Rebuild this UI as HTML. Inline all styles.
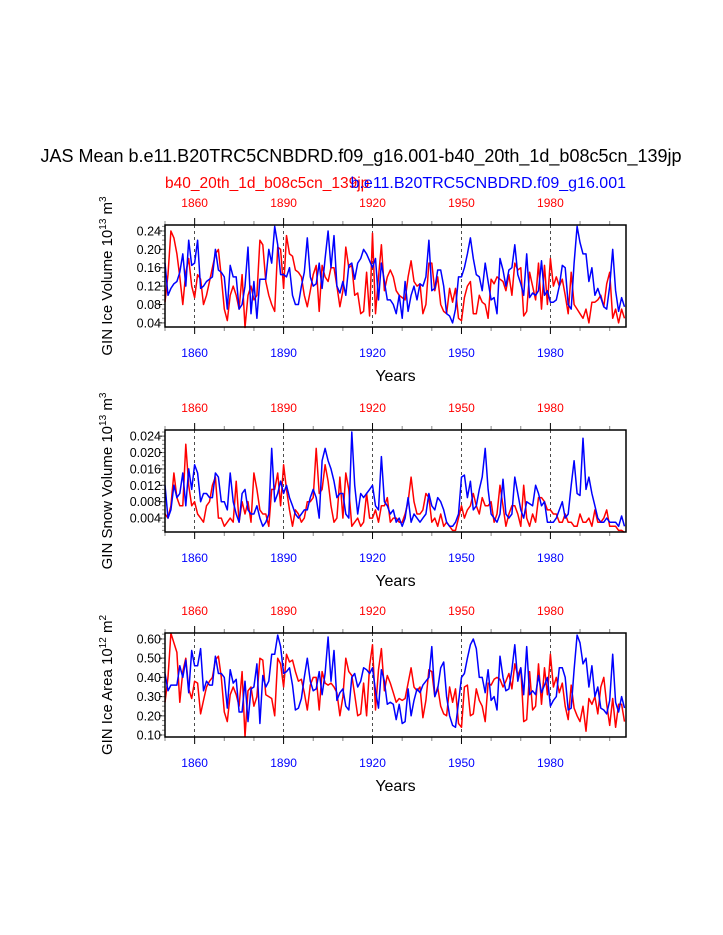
<!DOCTYPE html>
<html><head><meta charset="utf-8"><style>
body{margin:0;background:#fff;}
svg{display:block;font-family:"Liberation Sans",Arial,sans-serif;}
</style></head><body>
<svg id="chart" width="723" height="935" viewBox="0 0 723 935" xmlns="http://www.w3.org/2000/svg">
<text x="361" y="162" font-size="18" text-anchor="middle">JAS Mean b.e11.B20TRC5CNBDRD.f09_g16.001-b40_20th_1d_b08c5cn_139jp</text>
<text x="165" y="188" font-size="15.5" fill="#f00">b40_20th_1d_b08c5cn_139jp</text>
<text x="626" y="188" font-size="16" fill="#00f" text-anchor="end">b.e11.B20TRC5CNBDRD.f09_g16.001</text>
</svg>
<script>
const firstYear = 1850;
const xTicks = [1860, 1890, 1920, 1950, 1980];
const volBlue = [0.17,0.10,0.115,0.125,0.13,0.15,0.19,0.12,0.22,0.165,0.17,0.22,0.115,0.12,0.13,0.135,0.14,0.20,0.155,0.15,0.14,0.07,0.165,0.14,0.14,0.07,0.08,0.12,0.205,0.06,0.13,0.05,0.135,0.135,0.135,0.20,0.17,0.25,0.21,0.145,0.145,0.14,0.16,0.10,0.08,0.08,0.12,0.15,0.225,0.14,0.12,0.125,0.17,0.115,0.18,0.24,0.16,0.23,0.12,0.105,0.13,0.10,0.165,0.17,0.135,0.17,0.18,0.20,0.19,0.175,0.16,0.18,0.09,0.17,0.13,0.09,0.09,0.08,0.06,0.10,0.05,0.13,0.065,0.10,0.12,0.09,0.125,0.12,0.14,0.22,0.11,0.115,0.155,0.155,0.12,0.06,0.055,0.04,0.07,0.14,0.14,0.16,0.19,0.225,0.18,0.145,0.14,0.11,0.17,0.13,0.09,0.095,0.06,0.18,0.155,0.12,0.155,0.16,0.21,0.145,0.125,0.10,0.19,0.095,0.105,0.10,0.11,0.175,0.10,0.11,0.085,0.085,0.09,0.12,0.165,0.16,0.08,0.07,0.17,0.25,0.215,0.19,0.19,0.13,0.16,0.10,0.115,0.095,0.075,0.07,0.12,0.20,0.11,0.065,0.095,0.075];
const volRed = [0.085,0.145,0.24,0.225,0.19,0.14,0.08,0.15,0.18,0.12,0.095,0.145,0.135,0.08,0.10,0.13,0.16,0.19,0.20,0.14,0.07,0.045,0.10,0.12,0.10,0.07,0.145,0.03,0.10,0.12,0.09,0.10,0.22,0.21,0.13,0.10,0.08,0.065,0.205,0.20,0.115,0.23,0.19,0.185,0.155,0.15,0.14,0.10,0.075,0.11,0.145,0.165,0.065,0.165,0.14,0.13,0.16,0.16,0.12,0.075,0.11,0.205,0.16,0.165,0.10,0.105,0.06,0.065,0.15,0.055,0.235,0.06,0.14,0.21,0.11,0.14,0.155,0.14,0.11,0.10,0.095,0.09,0.14,0.175,0.13,0.12,0.125,0.06,0.08,0.17,0.17,0.11,0.14,0.08,0.065,0.06,0.115,0.085,0.115,0.05,0.045,0.095,0.12,0.13,0.06,0.06,0.10,0.085,0.08,0.05,0.135,0.125,0.14,0.135,0.13,0.11,0.145,0.10,0.17,0.155,0.16,0.055,0.065,0.15,0.12,0.09,0.17,0.07,0.165,0.08,0.18,0.12,0.14,0.12,0.135,0.10,0.06,0.15,0.08,0.07,0.06,0.05,0.07,0.04,0.085,0.085,0.09,0.10,0.075,0.125,0.15,0.05,0.07,0.04,0.07,0.05];
const snowBlue = [0.012,0.004,0.006,0.012,0.009,0.010,0.015,0.007,0.016,0.011,0.017,0.015,0.008,0.010,0.010,0.009,0.009,0.015,0.014,0.008,0.008,0.006,0.015,0.008,0.005,0.003,0.010,0.011,0.006,0.005,0.005,0.007,0.004,0.002,0.003,0.005,0.021,0.008,0.010,0.013,0.010,0.012,0.009,0.007,0.005,0.004,0.005,0.006,0.006,0.009,0.011,0.009,0.004,0.018,0.021,0.018,0.016,0.013,0.009,0.010,0.010,0.005,0.004,0.025,0.012,0.005,0.010,0.009,0.010,0.011,0.012,0.007,0.006,0.019,0.008,0.007,0.005,0.006,0.003,0.004,0.002,0.004,0.009,0.003,0.005,0.004,0.003,0.004,0.005,0.010,0.007,0.006,0.009,0.008,0.006,0.003,0.002,0.002,0.003,0.005,0.014,0.0145,0.009,0.013,0.006,0.007,0.011,0.014,0.021,0.011,0.005,0.004,0.003,0.005,0.0135,0.005,0.004,0.005,0.014,0.010,0.006,0.004,0.008,0.0075,0.007,0.012,0.010,0.007,0.008,0.003,0.003,0.003,0.004,0.006,0.008,0.004,0.005,0.012,0.018,0.010,0.0095,0.0235,0.011,0.014,0.010,0.007,0.004,0.003,0.003,0.004,0.003,0.003,0.003,0.002,0.0045,0.002];
const snowRed = [0.005,0.004,0.007,0.015,0.009,0.007,0.007,0.022,0.012,0.007,0.008,0.005,0.004,0.003,0.007,0.008,0.012,0.014,0.004,0.004,0.002,0.003,0.004,0.003,0.013,0.003,0.008,0.005,0.008,0.003,0.015,0.011,0.006,0.005,0.005,0.002,0.011,0.011,0.015,0.007,0.017,0.011,0.006,0.002,0.006,0.005,0.003,0.004,0.008,0.008,0.009,0.021,0.010,0.011,0.017,0.013,0.007,0.003,0.004,0.014,0.004,0.015,0.011,0.002,0.003,0.004,0.002,0.003,0.010,0.004,0.004,0.006,0.003,0.007,0.007,0.009,0.003,0.004,0.004,0.003,0.003,0.005,0.008,0.014,0.008,0.005,0.005,0.006,0.010,0.009,0.003,0.004,0.002,0.005,0.002,0.003,0.002,0.001,0.001,0.004,0.007,0.004,0.006,0.007,0.010,0.007,0.005,0.009,0.007,0.007,0.008,0.003,0.005,0.012,0.007,0.002,0.005,0.007,0.007,0.005,0.002,0.012,0.004,0.002,0.005,0.003,0.009,0.009,0.008,0.006,0.006,0.005,0.005,0.003,0.003,0.005,0.003,0.003,0.002,0.002,0.005,0.003,0.003,0.004,0.002,0.006,0.003,0.003,0.004,0.006,0.002,0.002,0.002,0.001,0.001,0.0005];
const areaBlue = [0.42,0.33,0.36,0.36,0.36,0.46,0.40,0.49,0.32,0.54,0.46,0.46,0.55,0.33,0.38,0.36,0.36,0.51,0.42,0.42,0.40,0.24,0.44,0.37,0.39,0.22,0.22,0.38,0.17,0.34,0.35,0.47,0.16,0.41,0.35,0.38,0.52,0.52,0.62,0.56,0.42,0.43,0.45,0.36,0.23,0.24,0.29,0.40,0.50,0.38,0.33,0.34,0.43,0.31,0.42,0.61,0.38,0.54,0.28,0.32,0.34,0.25,0.23,0.40,0.42,0.35,0.38,0.45,0.44,0.42,0.45,0.33,0.24,0.44,0.38,0.26,0.27,0.26,0.18,0.26,0.16,0.17,0.34,0.20,0.28,0.34,0.32,0.36,0.38,0.40,0.56,0.30,0.34,0.45,0.48,0.30,0.20,0.15,0.14,0.27,0.40,0.42,0.50,0.57,0.60,0.55,0.40,0.40,0.32,0.44,0.28,0.30,0.23,0.51,0.40,0.33,0.34,0.44,0.57,0.38,0.45,0.31,0.56,0.31,0.33,0.31,0.41,0.32,0.36,0.40,0.25,0.28,0.30,0.45,0.45,0.40,0.23,0.24,0.44,0.62,0.58,0.47,0.50,0.35,0.46,0.30,0.35,0.24,0.23,0.21,0.28,0.52,0.27,0.22,0.30,0.24];
const areaRed = [0.27,0.40,0.63,0.58,0.53,0.27,0.43,0.50,0.34,0.29,0.38,0.37,0.21,0.28,0.35,0.38,0.40,0.49,0.51,0.40,0.22,0.17,0.31,0.35,0.31,0.25,0.43,0.09,0.33,0.35,0.25,0.30,0.50,0.49,0.31,0.30,0.29,0.20,0.50,0.47,0.35,0.52,0.48,0.49,0.43,0.38,0.39,0.32,0.23,0.36,0.40,0.40,0.23,0.43,0.37,0.36,0.37,0.35,0.32,0.20,0.30,0.50,0.43,0.41,0.31,0.20,0.21,0.37,0.20,0.46,0.57,0.23,0.44,0.55,0.33,0.41,0.37,0.32,0.27,0.29,0.28,0.29,0.37,0.45,0.35,0.33,0.35,0.19,0.28,0.44,0.43,0.30,0.35,0.25,0.21,0.20,0.35,0.27,0.34,0.16,0.14,0.35,0.36,0.20,0.21,0.34,0.28,0.25,0.17,0.37,0.36,0.39,0.40,0.39,0.35,0.38,0.42,0.34,0.47,0.41,0.45,0.17,0.18,0.43,0.23,0.25,0.47,0.26,0.45,0.31,0.52,0.35,0.40,0.32,0.37,0.25,0.18,0.36,0.24,0.20,0.17,0.25,0.12,0.29,0.26,0.30,0.21,0.35,0.40,0.26,0.15,0.29,0.14,0.26,0.26,0.17];
const volTicks = ["0.04","0.08","0.12","0.16","0.20","0.24"];
const snowTicks = ["0.004","0.008","0.012","0.016","0.020","0.024"];
const areaTicks = ["0.10","0.20","0.30","0.40","0.50","0.60"];

const svg = document.getElementById('chart');
const NS = 'http://www.w3.org/2000/svg';
function mk(tag, attrs, parent){const e=document.createElementNS(NS,tag);for(const k in attrs)e.setAttribute(k,attrs[k]);(parent||svg).appendChild(e);return e;}
const X0=165, X1=626, Y0v=firstYear, Y1v=2005.5;
function xs(yr){return X0+(yr-Y0v)/(Y1v-Y0v)*(X1-X0);}

function panel(o){
  const g=mk('g',{});
  
  
  const ys=v=>o.top+(o.ymax-v)/(o.ymax-o.ymin)*(o.bot-o.top);
  xTicks.forEach(t=>{const l=mk('line',{x1:xs(t),x2:xs(t),y1:o.top,y2:o.bot,stroke:'#000','stroke-width':0.7,'stroke-dasharray':'3,3'},g);
    });
  for(let yr=1850;yr<=2000;yr+=10){
    const major=xTicks.includes(yr); const len=major?7:4;
    mk('line',{x1:xs(yr),x2:xs(yr),y1:o.bot,y2:o.bot+len,stroke:major?'#000':'#888','stroke-width':1},g);
    mk('line',{x1:xs(yr),x2:xs(yr),y1:o.top,y2:o.top-len,stroke:major?'#000':'#888','stroke-width':1},g);
  }
  xTicks.forEach(t=>{
    const b=mk('text',{x:xs(t),y:o.bot+30,'font-size':12,fill:'#00f','text-anchor':'middle'},g);b.textContent=t;
    
    const tp=mk('text',{x:xs(t),y:o.top-18,'font-size':12,fill:'#f00','text-anchor':'middle'},g);tp.textContent=t;
    
  });
  o.ticks.forEach(s=>{const v=parseFloat(s);const y=ys(v);
    mk('line',{x1:X0-6,x2:X0,y1:y,y2:y,stroke:'#000'},g);
    const t=mk('text',{x:X0-4,y:y+4.5,'font-size':12.5,'text-anchor':'end'},g);t.textContent=s;
    
  });
  const step=(parseFloat(o.ticks[1])-parseFloat(o.ticks[0]))/4;
  for(let v=parseFloat(o.ticks[0])-4*step;v<=o.ymax;v+=step){if(v<o.ymin)continue;const y=ys(v);
    mk('line',{x1:X0-3,x2:X0,y1:y,y2:y,stroke:'#888'},g);}
  [[o.red,'#f00','series-red'],[o.blue,'#00f','series-blue']].forEach(([arr,c,n])=>{
    const d=arr.map((v,i)=>(i?'L':'M')+xs(firstYear+i).toFixed(1)+','+ys(v).toFixed(1)).join(' ');
    const p=mk('path',{d:d,fill:'none',stroke:c,'stroke-width':1.5,'stroke-linejoin':'round'},g);
    
  });
  const f=mk('rect',{x:X0,y:o.top,width:X1-X0,height:o.bot-o.top,fill:'none',stroke:'#000','stroke-width':1.5},g);
  
  const xt=mk('text',{x:(X0+X1)/2,y:o.bot+54,'font-size':16,'text-anchor':'middle'},g);xt.textContent='Years';
  
  const yt=mk('text',{transform:`translate(112,${(o.top+o.bot)/2}) rotate(-90)`,'font-size':15,'text-anchor':'middle'},g);
  yt.innerHTML=o.ylab;
  
}
panel({name:'ice-volume-panel',top:225,bot:327,ymin:0.031,ymax:0.253,ticks:volTicks,red:volRed,blue:volBlue,
  ylab:'GIN Ice Volume 10<tspan dy="-6" font-size="10">13</tspan><tspan dy="6"> m</tspan><tspan dy="-6" font-size="10">3</tspan>'});
panel({name:'snow-volume-panel',top:430,bot:532,ymin:0.0006,ymax:0.0255,ticks:snowTicks,red:snowRed,blue:snowBlue,
  ylab:'GIN Snow Volume 10<tspan dy="-6" font-size="10">13</tspan><tspan dy="6"> m</tspan><tspan dy="-6" font-size="10">3</tspan>'});
panel({name:'ice-area-panel',top:633,bot:737,ymin:0.0896,ymax:0.631,ticks:areaTicks,red:areaRed,blue:areaBlue,
  ylab:'GIN Ice Area 10<tspan dy="-6" font-size="10">12</tspan><tspan dy="6"> m</tspan><tspan dy="-6" font-size="10">2</tspan>'});
</script>
</body></html>
